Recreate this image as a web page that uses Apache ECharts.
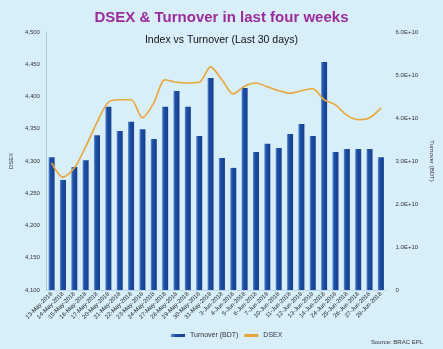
<!DOCTYPE html>
<html><head><meta charset="utf-8">
<script src="https://cdn.jsdelivr.net/npm/echarts@6/dist/echarts.min.js"></script>
<style>html,body{margin:0;padding:0;background:#d8effa;}#c{width:443px;height:349px;}</style>
</head><body><div id="c"></div>
<script>
const categories = ['13-May-2018','14-May-2018','15-May-2018','16-May-2018','17-May-2018',
'20-May-2018','21-May-2018','22-May-2018','23-May-2018','24-May-2018',
'27-May-2018','28-May-2018','29-May-2018','30-May-2018','31-May-2018',
'3-Jun-2018','4-Jun-2018','5-Jun-2018','6-Jun-2018','7-Jun-2018',
'10-Jun-2018','11-Jun-2018','12-Jun-2018','13-Jun-2018','14-Jun-2018',
'24-Jun-2018','25-Jun-2018','26-Jun-2018','27-Jun-2018','28-Jun-2018'];
const turnover = [3.09e10,2.56e10,2.86e10,3.02e10,3.60e10,4.26e10,3.70e10,3.91e10,3.74e10,3.51e10,
4.26e10,4.63e10,4.26e10,3.58e10,4.93e10,3.07e10,2.84e10,4.70e10,3.21e10,3.40e10,
3.30e10,3.63e10,3.86e10,3.58e10,5.30e10,3.21e10,3.28e10,3.28e10,3.28e10,3.09e10];
const dsex = [4297,4275,4289,4322,4360,4391,4395,4395,4367,4390,
4426,4422,4421,4422,4446,4426,4404,4416,4421,4415,
4409,4405,4409,4412,4395,4387,4371,4364,4367,4382];
const leftTicks = [4100,4150,4200,4250,4300,4350,4400,4450,4500];
const rightTicks = [0,1e10,2e10,3e10,4e10,5e10,6e10];

const chart = echarts.init(document.getElementById('c'), null, {renderer:'canvas'});
const font = 'Liberation Sans';
chart.setOption({
  backgroundColor:'#d8effa',
  animation:false,
  textStyle:{fontFamily:font},
  title:[
    {text:'DSEX & Turnover in last four weeks', left:'center', top:5,
     textStyle:{color:'#9c2a9a', fontSize:15, fontWeight:'bold', fontFamily:font}},
    {text:'Index vs Turnover (Last 30 days)', left:'center', top:30,
     textStyle:{color:'#111', fontSize:10.5, fontWeight:'normal', fontFamily:font}},
    {text:'Source: BRAC EPL', right:15, top:334,
     textStyle:{color:'#333', fontSize:6, fontWeight:'normal', fontFamily:font}}
  ],
  legend:{bottom:5, left:166, itemGap:6, itemWidth:14, itemHeight:3,
    textStyle:{fontSize:7, color:'#333'},
    data:[{name:'Turnover (BDT)', icon:'rect'},{name:'DSEX', icon:'rect'}]},
  grid:{left:38, right:40, top:32, bottom:59},
  xAxis:{type:'category', data:categories, boundaryGap:true,
    axisLine:{show:true, lineStyle:{color:'#bcd8e4'}}, axisTick:{show:false},
    axisLabel:{rotate:45, fontSize:6, color:'#222', interval:0, margin:3}},
  yAxis:[
    {type:'value', min:leftTicks[0], max:leftTicks[leftTicks.length-1], interval:50,
     name:'DSEX', nameLocation:'middle', nameGap:28, nameRotate:90,
     nameTextStyle:{fontSize:6, color:'#333'},
     axisLine:{show:true, lineStyle:{color:'#a9c9d8'}}, axisTick:{show:false}, splitLine:{show:false},
     axisLabel:{fontSize:6, color:'#333', margin:6, formatter:v=>v.toLocaleString('en-US')}},
    {type:'value', min:rightTicks[0], max:rightTicks[rightTicks.length-1], interval:1e10,
     name:'Turnover (BDT)', nameLocation:'middle', nameGap:30, nameRotate:-90,
     nameTextStyle:{fontSize:6, color:'#333'},
     axisLine:{show:false}, axisTick:{show:false}, splitLine:{show:false},
     axisLabel:{fontSize:6, color:'#333', margin:9, formatter:v=>v===0?'0':(v/1e10).toFixed(1)+'E+10'}}
  ],
  series:[
    {name:'Turnover (BDT)', type:'bar', yAxisIndex:1, data:turnover, barWidth:6,
     itemStyle:{color:new echarts.graphic.LinearGradient(0,0,1,0,[
       {offset:0,color:'#5f8fd6'},{offset:0.3,color:'#1d4fa6'},{offset:1,color:'#173f8c'}])}},
    {name:'DSEX', type:'line', yAxisIndex:0, data:dsex, smooth:0.3, symbol:'none',
     lineStyle:{color:'#e9a53a', width:1.6}, itemStyle:{color:'#e9a53a'}}
  ]
});
</script></body></html>
